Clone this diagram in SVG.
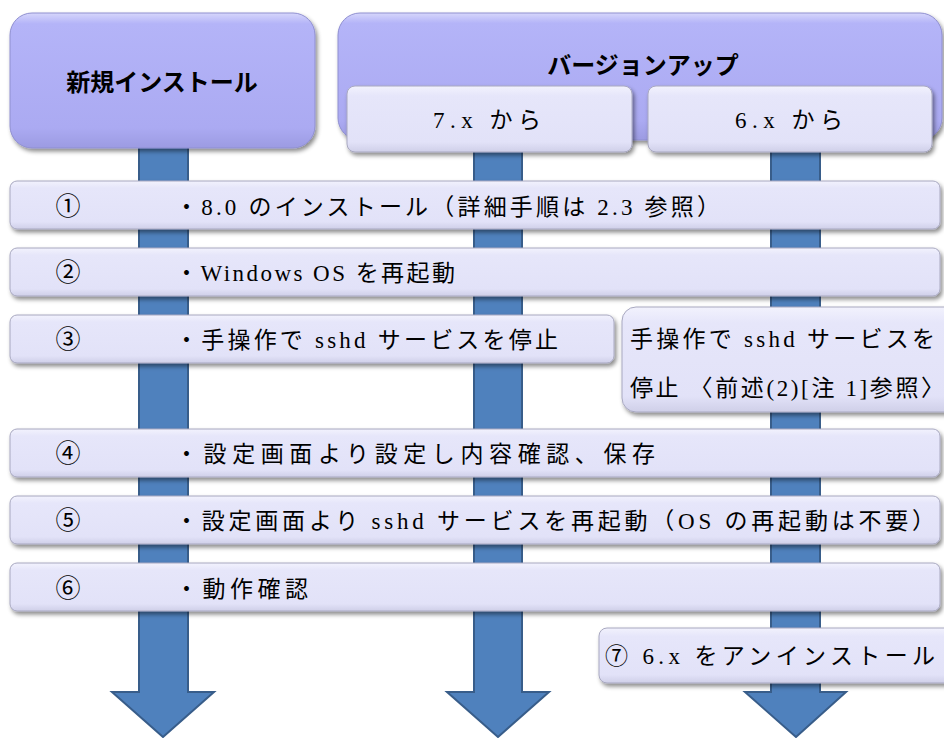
<svg xmlns="http://www.w3.org/2000/svg" width="944" height="738" viewBox="0 0 944 738">
<defs>
<linearGradient id="hdr" x1="0" y1="0" x2="0" y2="1">
<stop offset="0" stop-color="#d6d6fb"/>
<stop offset="0.08" stop-color="#b4b4f8"/>
<stop offset="0.85" stop-color="#abaaf2"/>
<stop offset="1" stop-color="#9c9be2"/>
</linearGradient>
<linearGradient id="bar" x1="0" y1="0" x2="0" y2="1">
<stop offset="0" stop-color="#f2f2fd"/>
<stop offset="0.15" stop-color="#e6e6fa"/>
<stop offset="0.85" stop-color="#e2e2f8"/>
<stop offset="1" stop-color="#cfcfe8"/>
</linearGradient>
<filter id="sh" x="-5%" y="-20%" width="115%" height="150%">
<feDropShadow dx="2" dy="3" stdDeviation="2" flood-color="#000" flood-opacity="0.45"/>
</filter>
</defs>
<style>
.hdr{fill:url(#hdr);stroke:#8f8fd0;stroke-width:1;filter:url(#sh)}
.bar{fill:url(#bar);stroke:#a8a8c0;stroke-width:1;filter:url(#sh)}
.arrow{fill:#4f81bd;stroke:#385d8a;stroke-width:2}
.ht{font-family:"Noto Sans CJK JP","Noto Sans",sans-serif;font-weight:bold;font-size:24px;fill:#000}
.t{font-family:"Liberation Serif","Noto Sans CJK JP",serif;font-size:23px;fill:#000}
.n{font-family:"Noto Sans CJK JP",sans-serif;font-size:25px;fill:#000}
</style>
<g id="connectors">
<polygon class="arrow" points="139,140 188,140 188,692 214,692 163,737 112,692 139,692"/>
<polygon class="arrow" points="474,140 522,140 522,692 549,692 498,737 447,692 474,692"/>
<polygon class="arrow" points="771,140 820,140 820,692 846,692 796,737 745,692 771,692"/>
</g>
<g id="new-install">
<rect class="hdr" x="10" y="13" width="305" height="135" rx="22"/>
<text class="ht" x="162" y="91" text-anchor="middle">新規インストール</text>
</g>
<g id="version-up">
<rect class="hdr" x="338" y="13" width="604" height="127" rx="22"/>
<text class="ht" x="643" y="74" text-anchor="middle">バージョンアップ</text>
</g>
<g id="from-7x">
<rect class="bar" x="347" y="86" width="285" height="66" rx="8"/>
<text class="t" x="433" y="128" textLength="108">7.x から</text>
</g>
<g id="from-6x">
<rect class="bar" x="648" y="86" width="284" height="66" rx="8"/>
<text class="t" x="735" y="128" textLength="108">6.x から</text>
</g>
<g id="step1">
<rect class="bar" x="10" y="181" width="930" height="48" rx="7"/>
<text class="n" x="68" y="215" text-anchor="middle">①</text>
<text class="t" x="175" y="215" textLength="545">・8.0 のインストール（詳細手順は 2.3 参照）</text>
</g>
<g id="step2">
<rect class="bar" x="10" y="248" width="930" height="48" rx="7"/>
<text class="n" x="68" y="281" text-anchor="middle">②</text>
<text class="t" x="175" y="281" textLength="280">・Windows OS を再起動</text>
</g>
<g id="step3">
<rect class="bar" x="10" y="315" width="604" height="48" rx="7"/>
<text class="n" x="68" y="348" text-anchor="middle">③</text>
<text class="t" x="175" y="348" textLength="383">・手操作で sshd サービスを停止</text>
</g>
<g id="step3-6x">
<rect class="bar" x="622" y="307" width="340" height="105" rx="14"/>
<text class="t" x="630" y="347" textLength="305">手操作で sshd サービスを</text>
<text class="t" x="630" y="396" textLength="314">停止 〈前述(2)[注 1]参照〉</text>
</g>
<g id="step4">
<rect class="bar" x="10" y="429" width="930" height="48" rx="7"/>
<text class="n" x="68" y="462" text-anchor="middle">④</text>
<text class="t" x="175" y="462" textLength="480">・設定画面より設定し内容確認、保存</text>
</g>
<g id="step5">
<rect class="bar" x="10" y="496" width="930" height="48" rx="7"/>
<text class="n" x="68" y="529" text-anchor="middle">⑤</text>
<text class="t" x="175" y="529" textLength="760">・設定画面より sshd サービスを再起動（OS の再起動は不要）</text>
</g>
<g id="step6">
<rect class="bar" x="10" y="563" width="930" height="48" rx="7"/>
<text class="n" x="68" y="597" text-anchor="middle">⑥</text>
<text class="t" x="175" y="597" textLength="133">・動作確認</text>
</g>
<g id="step7">
<rect class="bar" x="599" y="628" width="360" height="55" rx="8"/>
<text class="t" x="605" y="664" textLength="330">⑦ 6.x をアンインストール</text>
</g>
</svg>
